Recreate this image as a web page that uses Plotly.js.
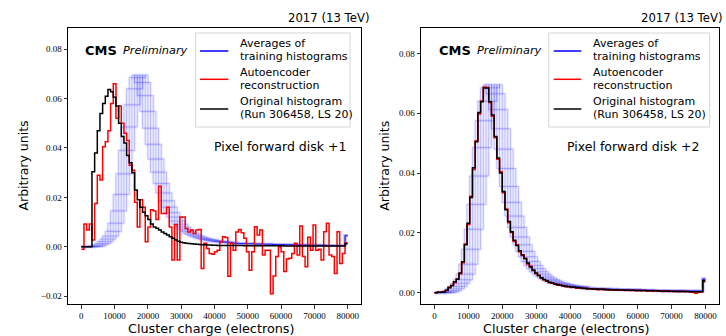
<!DOCTYPE html>
<html><head><meta charset="utf-8">
<script src="https://cdn.plot.ly/plotly-3.0.1.min.js"></script>
<style>html,body{margin:0;padding:0;background:#fff;}#chart{width:726px;height:336px;}</style>
</head><body><div id="chart"></div>
<script>
// ---------------- data ----------------
const binWidth = 800;
const xTickVals = [0, 10000, 20000, 30000, 40000, 50000, 60000, 70000, 80000];
const leftYTicks = [-0.02, 0.00, 0.02, 0.04, 0.06, 0.08];
const rightYTicks = [0.00, 0.02, 0.04, 0.06, 0.08];

const blackLeft = [0,0,0,0,0.0304,0.038,0.047,0.054,0.058,0.061,
0.0637,0.0628,0.0605,0.057,0.050,0.0446,0.042,0.037,0.034,0.030,
0.023,0.019,0.016,0.014,0.0125,0.011,0.0092,0.008,0.0075,0.0068,
0.006,0.0054,0.0047,0.004,0.0034,0.0027,0.0022,0.0018,0.0016,0.0014,
0.0013,0.0012,0.0011,0.0010,0.0009,0.0008,0.0008,0.0007,0.0007,0.0006,
0.0006,0.0005,0.0005,0.0005,0.0005,0.0005,0.0005,0.0005,0.0005,0.0005,
0.0005,0.0004,0.0004,0.0004,0.0004,0.0004,0.0004,0.0004,0.0004,0.0004,
0.0004,0.0004,0.0004,0.0004,0.0004,0.0004,0.0003,0.0003,0.0003,0.0003,
0.0003,0.0003,0.0003,0.0003,0.0003,0.0003,0.0003,0.0003,0.0003,0.0003,
0.0003,0.0003,0.0003,0.0003,0.0003,0.0003,0.0003,0.0003,0.0003,0.0012];

const redLeft = [-0.001,0.0092,0.0068,0.0092,0.0027,0.0175,0.029,0.027,0.0405,0.0425,
0.047,0.058,0.066,0.052,0.057,0.050,0.046,0.043,0.033,0.031,
0.018,0.008,0.019,0.016,0.002,0.008,0.015,0.0145,0.011,0.0245,
0.0135,0.0135,0.016,0.008,-0.0054,0.009,-0.0054,0.012,0.012,0.0074,
0.006,0.0068,0.0054,0.0068,0.007,-0.0088,0.0014,-0.0007,-0.0027,-0.003,
-0.002,-0.0014,0.002,0.004,0.0037,-0.012,0.0014,-0.0014,0.006,0.007,
0.0057,0.0034,-0.002,-0.0095,-0.002,0.0081,0.0047,0.0068,-0.0034,-0.0014,
-0.0014,-0.019,-0.0119,-0.004,0,-0.002,-0.010,-0.005,-0.0047,-0.0027,
0.0014,-0.0034,0.0084,-0.004,-0.0081,0.0038,-0.0014,0.0088,-0.0014,-0.001,
-0.0054,0.0061,0.0095,-0.0034,-0.004,-0.0108,0.0061,-0.0068,-0.0027,0.0016];

const blackRight = [0,0.0001,0.0001,0.0002,0.0008,0.0016,0.0024,0.0036,0.0045,0.0066,
0.0103,0.0160,0.0232,0.0318,0.0418,0.0505,0.0602,0.0638,0.0684,0.0684,
0.0638,0.0594,0.0522,0.0450,0.0400,0.0338,0.0277,0.0238,0.0204,0.0175,
0.0158,0.0140,0.0127,0.0113,0.0099,0.0086,0.0076,0.0066,0.0057,0.0050,
0.0044,0.0039,0.0035,0.0032,0.0029,0.0027,0.0025,0.0023,0.0021,0.0020,
0.0019,0.0018,0.0017,0.0016,0.0015,0.0014,0.0013,0.0013,0.0012,0.0012,
0.0011,0.0011,0.0011,0.0010,0.0010,0.0010,0.0009,0.0009,0.0009,0.0009,
0.0008,0.0008,0.0008,0.0008,0.0007,0.0007,0.0007,0.0007,0.0006,0.0006,
0.0006,0.0006,0.0006,0.0005,0.0005,0.0005,0.0005,0.0005,0.0004,0.0004,
0.0004,0.0004,0.0004,0.0004,0.0003,0.0003,0.0003,0.0003,0.0003,0.0040];

const redRight = [0,0.0002,0.0002,0.0003,0.0007,0.0019,0.0024,0.0034,0.0046,0.0063,
0.0100,0.0163,0.0228,0.0322,0.0412,0.0508,0.0597,0.0641,0.0688,0.0686,
0.0636,0.0590,0.0518,0.0446,0.0404,0.0334,0.0280,0.0234,0.0201,0.0171,
0.0160,0.0137,0.0124,0.0115,0.0096,0.0088,0.0074,0.0064,0.0058,0.0048,
0.0043,0.0040,0.0033,0.0031,0.0030,0.0025,0.0026,0.0022,0.0020,0.0021,
0.0017,0.0018,0.0015,0.0016,0.0014,0.0015,0.0012,0.0013,0.0011,0.0012,
0.0010,0.0011,0.0010,0.0011,0.0009,0.0010,0.0008,0.0009,0.0008,0.0009,
0.0007,0.0008,0.0007,0.0009,0.0006,0.0007,0.0006,0.0008,0.0005,0.0006,
0.0005,0.0007,0.0005,0.0006,0.0004,0.0005,0.0004,0.0006,0.0004,0.0004,
0.0003,0.0005,0.0003,0.0004,0.0002,0.0001,-0.0002,0.0001,0.0003,0.0036];

// shape of a training-average histogram (peak region)
const blueShape = [0.0001,0.0003,0.0007,0.0013,0.0021,0.0031,0.0043,0.0062,0.0095,0.0145,
0.0212,0.0295,0.0390,0.0485,0.0575,0.0640,0.0685,0.0695,0.0665,0.0612,
0.0548,0.0480,0.0415,0.0355,0.0302,0.0256,0.0218,0.0186,0.0160,0.0138,
0.0120,0.0104,0.0091,0.0080,0.0070,0.0062,0.0055,0.0049,0.0044,0.0040,
0.0036,0.0033,0.0030,0.0028,0.0026,0.0024,0.0022,0.0021,0.0020,0.0019,
0.0018,0.0017,0.0016,0.0015,0.0015,0.0014,0.0014];
// common tail of the blue histograms (bins 57..99)
const blueTail = [0.0014,0.0014,0.0013,0.0013,0.0013,0.0012,0.0012,0.0012,0.0011,0.0011,
0.0011,0.0010,0.0010,0.0010,0.0010,0.0009,0.0009,0.0009,0.0009,0.0008,
0.0008,0.0008,0.0008,0.0008,0.0007,0.0007,0.0007,0.0007,0.0007,0.0006,
0.0006,0.0006,0.0006,0.0006,0.0006,0.0005,0.0005,0.0005,0.0005,0.0005,
0.0005,0.0005,0.0045];
// bin offsets of the individual blue histograms
const blueOffsetsLeft = [2, 3, 4, 5, 6, 7];
const blueOffsetsRight = [1, 2, 3, 4, 5, 6, 7];

// ---------------- build ----------------
const W = 726, H = 336;
const P = x => x / W, Q = y => 1 - y / H;

function edges(n) { const e = []; for (let i = 0; i <= n; i++) e.push(i * binWidth); return e; }
function stepY(v) { return v.concat([v[v.length - 1]]); }
function blueCurve(o) {
  const v = [];
  for (let i = 0; i < blueShape.length; i++) v.push(i < o ? 0 : blueShape[i - o]);
  return v.concat(blueTail);
}
function stepTrace(vals, xa, ya, color, width) {
  return {type: 'scatter', mode: 'lines', x: edges(vals.length), y: stepY(vals),
    xaxis: xa, yaxis: ya, line: {shape: 'hv', color: color, width: width}, hoverinfo: 'skip'};
}

const traces = [];
function addPanel(xa, ya, offsets, red, black) {
  offsets.forEach(o => traces.push(stepTrace(blueCurve(o), xa, ya, 'rgba(90,90,255,0.09)', 3.2)));
  offsets.forEach(o => traces.push(stepTrace(blueCurve(o), xa, ya, 'rgba(0,0,255,0.32)', 0.7)));
  traces.push(stepTrace(red, xa, ya, '#ff0000', 1.5));
  traces.push(stepTrace(black, xa, ya, '#000000', 1.5));
}
addPanel('x', 'y', blueOffsetsLeft, redLeft, blackLeft);
addPanel('x2', 'y2', blueOffsetsRight, redRight, blackRight);

const tickFont = {family: 'Liberation Serif', size: 9, color: '#000'};
function xAxis(dom, anchor) {
  return {domain: dom, anchor: anchor, range: [-4000, 84000], tickvals: xTickVals, tickformat: 'd',
    ticks: 'outside', ticklen: 3.5, tickwidth: 0.8, tickcolor: '#000', showline: true, mirror: true,
    linecolor: '#000', linewidth: 1, showgrid: false, zeroline: false, tickfont: tickFont, fixedrange: true};
}
function yAxis(dom, anchor, range, ticks) {
  return {domain: dom, anchor: anchor, range: range, tickvals: ticks, tickformat: '.2f',
    ticks: 'outside', ticklen: 3.5, tickwidth: 0.8, tickcolor: '#000', showline: true, mirror: true,
    linecolor: '#000', linewidth: 1, showgrid: false, zeroline: false, tickfont: tickFont, fixedrange: true};
}

const sans = 'DejaVu Sans';
const anns = [];
function ann(text, x, y, xanchor, size, extra) {
  anns.push(Object.assign({text: text, x: P(x), y: Q(y), xref: 'paper', yref: 'paper',
    xanchor: xanchor, yanchor: 'middle', showarrow: false,
    font: {family: sans, size: size, color: '#000'}}, extra || {}));
}
const shapes = [];
function panelDeco(legL, legR, lineL, lineR, textX, label, labelR, titleX, yTitleX, cmsX, prelX, eraR) {
  ann('2017 (13 TeV)', eraR, 18, 'right', 11.7);
  ann('<b>CMS</b>', cmsX, 50, 'left', 13);
  ann('<i>Preliminary</i>', prelX, 50, 'left', 11.3);
  shapes.push({type: 'rect', xref: 'paper', yref: 'paper', x0: P(legL), x1: P(legR), y0: Q(127), y1: Q(33),
    line: {color: '#d6d6d6', width: 1}, fillcolor: 'rgba(255,255,255,0.85)', layer: 'above'});
  [['#0000ff', 51], ['#ff0000', 79.3], ['#000000', 109]].forEach(c => shapes.push({type: 'line', xref: 'paper', yref: 'paper',
    x0: P(lineL), x1: P(lineR), y0: Q(c[1]), y1: Q(c[1]), line: {color: c[0], width: 1.5}, layer: 'above'}));
  const lt = [['Averages of', 43.7], ['training histograms', 56.7], ['Autoencoder', 72.7],
    ['reconstruction', 85.7], ['Original histogram', 101.7], ['(Run 306458, LS 20)', 114.3]];
  lt.forEach(t => ann(t[0], textX, t[1], 'left', 11));
  ann(label, labelR, 146, 'right', 12.5);
  ann('Cluster charge (electrons)', titleX, 328, 'center', 12.8);
  ann('Arbitrary units', yTitleX, 166, 'center', 12.5, {textangle: -90});
}
panelDeco(195.7, 350, 200, 228.3, 237.7, 'Pixel forward disk +1', 348.3, 211.7, 22.5, 82.7, 121, 372);
panelDeco(548.7, 709.7, 553.7, 581.3, 591.3, 'Pixel forward disk +2', 701.3, 566.3, 383.8, 437, 475, 725);

const yDom = [Q(304), Q(28)];
const layout = {
  width: W, height: H, margin: {l: 0, r: 0, t: 0, b: 0}, autosize: false,
  paper_bgcolor: '#fff', plot_bgcolor: '#fff', showlegend: false,
  xaxis: xAxis([P(68), P(361)], 'y'),
  yaxis: yAxis(yDom, 'x', [-0.0232, 0.0886], leftYTicks),
  xaxis2: xAxis([P(421), P(719)], 'y2'),
  yaxis2: yAxis(yDom, 'x2', [-0.0038, 0.0885], rightYTicks),
  annotations: anns, shapes: shapes
};
Plotly.newPlot('chart', traces, layout, {displayModeBar: false, staticPlot: true});
</script></body></html>
